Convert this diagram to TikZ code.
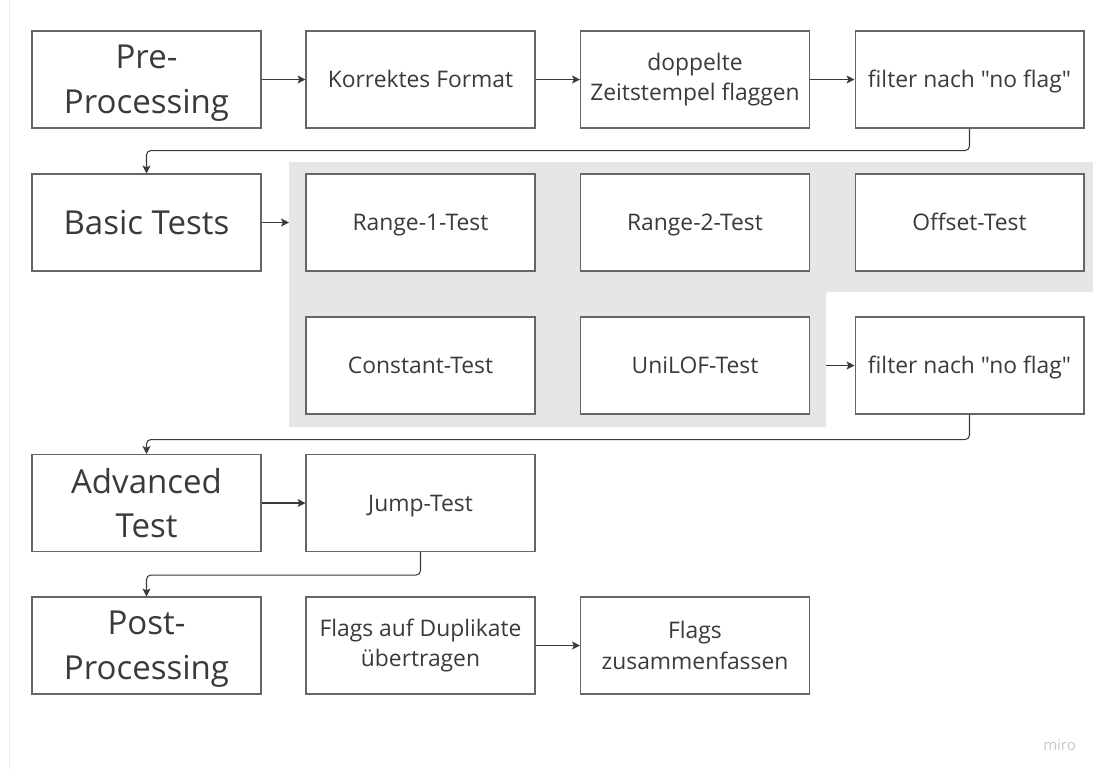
\documentclass[tikz,border=0pt]{standalone}
\usepackage{fontspec}
\setmainfont{Open Sans}[Ligatures=TeXReset]
\usetikzlibrary{arrows.meta}

\definecolor{boxline}{HTML}{666666}
\definecolor{txt}{HTML}{3A3A3A}
\definecolor{grayarea}{HTML}{E6E6E6}

\tikzset{
  box/.style={draw=boxline, line width=0.6pt, fill=white, text=txt,
    minimum width=4.58cm, minimum height=1.94cm, align=center, inner sep=2pt},
  bigbox/.style={box, font=\fontsize{18.8}{25.5}\selectfont, text depth=0pt},
  smallbox/.style={box, font=\fontsize{13}{17.5}\selectfont},
  oneline/.style={smallbox, text height=9.3pt, text depth=0pt},
  conn/.style={draw=txt, line width=0.6pt, rounded corners=2.5pt,
    -{Stealth[length=4.5pt,width=4.5pt,inset=1pt]}},
}

\begin{document}
\begin{tikzpicture}[x=0.02cm, y=-0.02cm]
    \useasboundingbox[fill=white] (0, 0) rectangle (1093, 769);
    \draw[black!7] (9, 0) -- (9, 769);

    % grauer Bereich der Basic Tests
    \fill[grayarea] (289, 162) -- (1093, 162) -- (1093, 292) -- (826, 292)
      -- (826, 427) -- (289, 427) -- cycle;
    \coordinate (grayL) at (289, 0);
    \coordinate (grayR) at (826, 0);

    % Zeile 1
    \node[bigbox] (pre) at (146.5, 79.5) {Pre-\\Processing};
    \node[oneline] (format) at (420.5, 79.5) {Korrektes Format};
    \node[smallbox] (dupl) at (695, 79.5) {doppelte\\Zeitstempel flaggen};
    \node[oneline] (filterA) at (969.5, 79.5) {filter nach "no flag"};

    % Zeile 2 und 3
    \node[bigbox] (basic) at (146.5, 222.5) {Basic Tests};
    \node[oneline] (range1) at (420.5, 222.5) {Range-1-Test};
    \node[oneline] (range2) at (695, 222.5) {Range-2-Test};
    \node[oneline] (offset) at (969.5, 222.5) {Offset-Test};
    \node[oneline] (const) at (420.5, 365.5) {Constant-Test};
    \node[oneline] (unilof) at (695, 365.5) {UniLOF-Test};
    \node[oneline] (filterB) at (969.5, 365.5) {filter nach "no flag"};

    % Zeile 4
    \node[bigbox] (adv) at (146.5, 503) {Advanced\\Test};
    \node[oneline] (jump) at (420.5, 503) {Jump-Test};

    % Zeile 5
    \node[bigbox] (post) at (146.5, 645.5) {Post-\\Processing};
    \node[smallbox] (transfer) at (420.5, 645.5) {Flags auf Duplikate\\übertragen};
    \node[smallbox] (merge) at (695, 645.5) {Flags\\zusammenfassen};

    \node[text=black!22, font=\fontsize{8.5}{9}\selectfont, anchor=east] (miro) at (1082, 745) {miro};

    \draw[conn] (pre) -- (format);
    \draw[conn] (format) -- (dupl);
    \draw[conn] (dupl) -- (filterA);
    \draw[conn] (filterA.south) -- ++(0, 22) -| (basic.north);

    \draw[conn] (basic.east) -- (basic.east -| grayL);
    \draw[conn] (filterB.west -| grayR) -- (filterB.west);
    \draw[conn] (filterB.south) -- ++(0, 25) -| (adv.north);

    \draw[conn] (adv) -- (jump);
    \draw[conn] (jump.south) -- ++(0, 23) -| (post.north);

    \draw[conn] (transfer) -- (merge);
\end{tikzpicture}
\end{document}
